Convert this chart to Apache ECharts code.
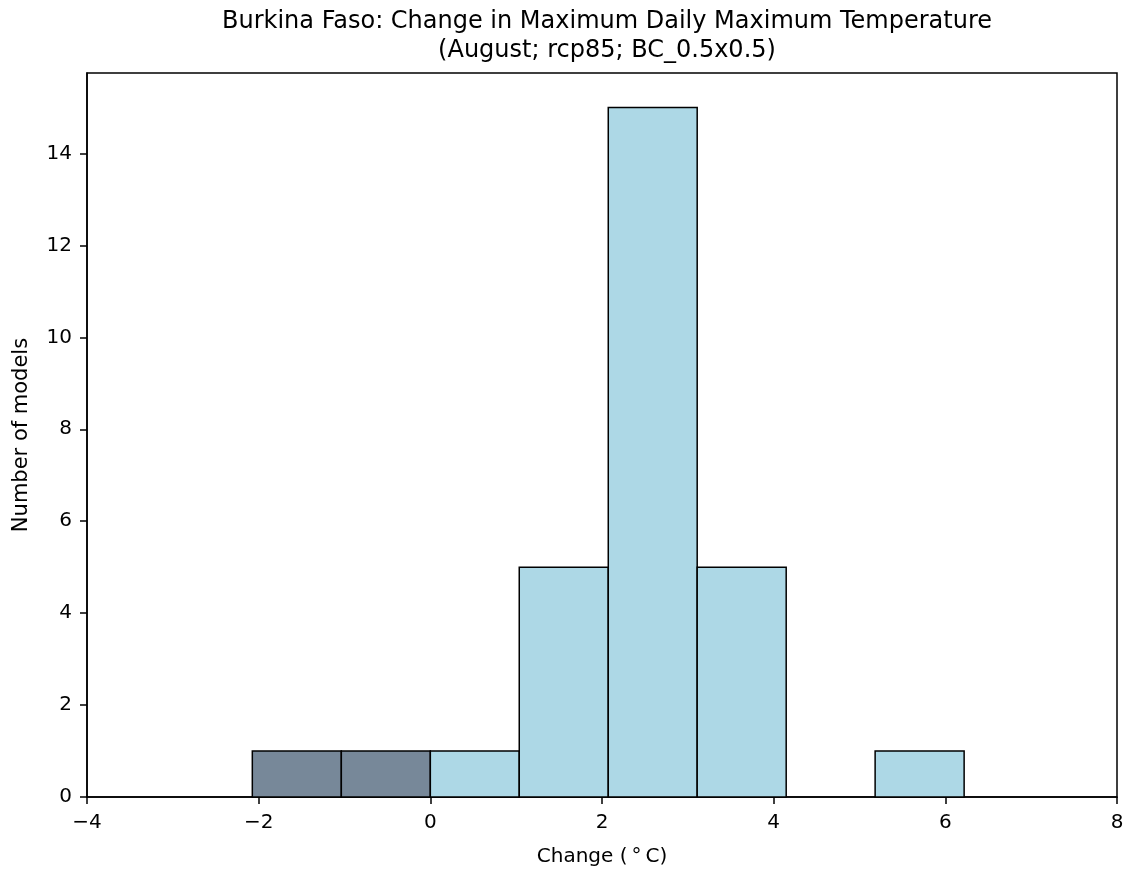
<!DOCTYPE html>
<html>
<head>
<meta charset="utf-8">
<script src="https://cdn.jsdelivr.net/npm/echarts@6/dist/echarts.min.js"></script>
<style>
  html, body { margin: 0; padding: 0; background: #fff; }
  #chart { width: 1128px; height: 869px; }
</style>
</head>
<body>
<div id="chart"></div>
<script>
// ---- data ----
const binEdges = [-2.074, -1.037, 0.0, 1.036, 2.073, 3.109, 4.146, 5.182, 6.219];
const counts = [1, 1, 1, 5, 15, 5, 0, 1];
const xTicks = [-4, -2, 0, 2, 4, 6, 8];
const yTicks = [0, 2, 4, 6, 8, 10, 12, 14];
const titleLines = [
  'Burkina Faso: Change in Maximum Daily Maximum Temperature',
  '(August; rcp85; BC_0.5x0.5)'
];
const xLabel = 'Change (\u2009\u00b0\u2009C)';
const yLabel = 'Number of models';

// ---- build ----
const FONT = 'DejaVu Sans';
const NEG_COLOR = '#778899';
const POS_COLOR = '#add8e6';

const binData = counts.map((c, i) => [binEdges[i], binEdges[i + 1], c]);

const chart = echarts.init(document.getElementById('chart'), null, { renderer: 'canvas' });

const option = {
  backgroundColor: '#ffffff',
  animation: false,
  title: {
    text: titleLines.join('\n'),
    left: 602,
    textAlign: 'center',
    top: 3,
    textStyle: {
      fontFamily: FONT,
      fontSize: 24,
      fontWeight: 'normal',
      color: '#000',
      lineHeight: 28.4
    }
  },
  grid: {
    left: 87,
    right: 11,
    top: 73,
    bottom: 72,
    containLabel: false,
    outerBoundsMode: 'none',
    show: true,
    borderColor: '#000',
    borderWidth: 1.5,
    backgroundColor: 'transparent'
  },
  xAxis: {
    type: 'value',
    min: -4,
    max: 8,
    interval: 2,
    name: xLabel,
    nameLocation: 'middle',
    nameGap: 50,
    nameTextStyle: { fontFamily: FONT, fontSize: 20, color: '#000' },
    axisLine: { show: true, onZero: false, lineStyle: { color: '#000', width: 1.5 } },
    axisTick: { show: true, inside: false, length: 7, lineStyle: { color: '#000', width: 1.5 }, customValues: xTicks },
    axisLabel: {
      fontFamily: FONT, fontSize: 20, color: '#000', margin: 16,
      customValues: xTicks,
      formatter: v => String(v).replace('-', '\u2212')
    },
    splitLine: { show: false }
  },
  yAxis: {
    type: 'value',
    min: 0,
    max: 15.75,
    interval: 2,
    name: yLabel,
    nameLocation: 'middle',
    nameGap: 55,
    nameRotate: 90,
    nameTextStyle: { fontFamily: FONT, fontSize: 21, color: '#000' },
    axisLine: { show: true, onZero: false, lineStyle: { color: '#000', width: 1.5 } },
    axisTick: { show: true, inside: false, length: 7, lineStyle: { color: '#000', width: 1.5 }, customValues: yTicks },
    axisLabel: {
      fontFamily: FONT, fontSize: 20, color: '#000', margin: 15,
      customValues: yTicks
    },
    splitLine: { show: false }
  },
  series: [{
    type: 'custom',
    data: binData,
    encode: { x: [0, 1], y: 2 },
    clip: false,
    renderItem: function (params, api) {
      const x0 = api.value(0), x1 = api.value(1), c = api.value(2);
      if (c <= 0) return null;
      const p0 = api.coord([x0, 0]);
      const p1 = api.coord([x1, c]);
      return {
        type: 'rect',
        shape: { x: p0[0], y: p1[1], width: p1[0] - p0[0], height: p0[1] - p1[1] },
        style: {
          fill: x1 <= 0 ? NEG_COLOR : POS_COLOR,
          stroke: '#000',
          lineWidth: 1.5
        }
      };
    }
  }]
};

chart.setOption(option);
</script>
</body>
</html>
